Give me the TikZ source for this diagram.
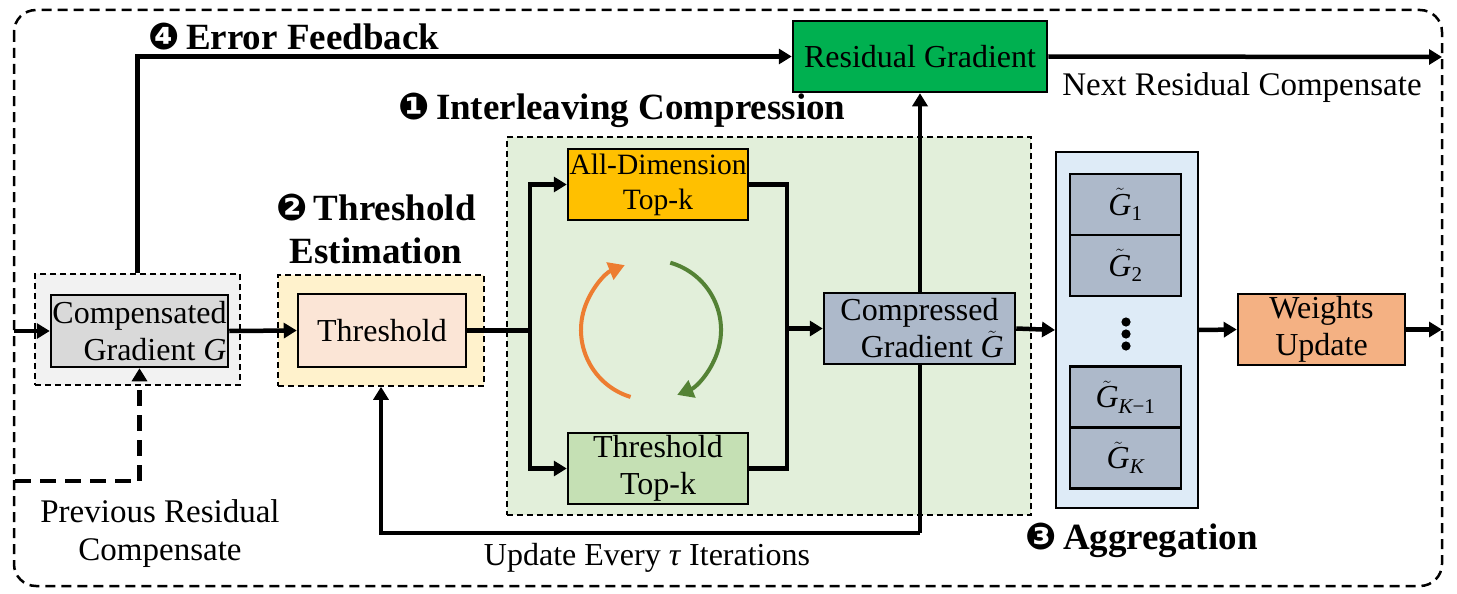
\documentclass[tikz,border=0pt]{standalone}
\usepackage{fontspec}
\setmainfont{Liberation Serif}
\newfontfamily\dingfont{DejaVu Sans}
\usetikzlibrary{arrows.meta}
\pgfdeclarelayer{bg}
\pgfdeclarelayer{fg}
\pgfsetlayers{bg,main,fg}
\definecolor{cgrayout}{HTML}{F2F2F2}
\definecolor{cgray}{HTML}{D9D9D9}
\definecolor{cyelout}{HTML}{FFF2CC}
\definecolor{cpeach}{HTML}{FBE5D6}
\definecolor{cgreenreg}{HTML}{E2EFDA}
\definecolor{corange}{HTML}{FFC000}
\definecolor{clgreen}{HTML}{C5E0B4}
\definecolor{cslate}{HTML}{ADB9CA}
\definecolor{clblue}{HTML}{DEEBF7}
\definecolor{csalmon}{HTML}{F4B183}
\definecolor{cresid}{HTML}{00B050}
\definecolor{carcor}{HTML}{ED7D31}
\definecolor{carcgr}{HTML}{548235}
\newcommand{\myGt}{$\tilde{\hbox{\itshape G}}$}
\newcommand{\myGs}[1]{$\tilde{\hbox{\itshape G}}_{\hbox{\fontsize{21}{21}\selectfont #1}}$}
\begin{document}
\begin{tikzpicture}[x=1pt,y=-1pt,
  txt/.style={font=\fontsize{32}{37}\selectfont},
  head/.style={font=\fontsize{37}{43}\selectfont\bfseries},
  box/.style={draw=black, line width=2.5pt, inner sep=0pt, txt, align=center},
  region/.style={draw=black, line width=1.6pt, dash pattern=on 6pt off 4pt, inner sep=0pt},
  lin/.style={line width=4.5pt},
  conn/.style={line width=4.5pt, -{Triangle[length=13pt,width=15pt]}},
  dconn/.style={line width=4.5pt, dash pattern=on 16pt off 9pt, -{Triangle[length=13pt,width=15pt]}},
  arc/.style={line width=4pt, -{Triangle[length=16pt,width=18pt]}}
]
\useasboundingbox (0,0) rectangle (1457,594);
\draw[line width=2.5pt, dash pattern=on 10pt off 6pt, rounded corners=22pt] (14,10) rectangle (1442,586);

\begin{pgfonlayer}{bg}
\node[region, fill=cgrayout, minimum width=205pt, minimum height=111pt] (compOuter) at (137.5,329.5) {};
\node[region, fill=cyelout, minimum width=206pt, minimum height=111pt] (thrOuter) at (381,330.5) {};
\node[region, fill=cgreenreg, minimum width=524pt, minimum height=378pt] (greg) at (769,326) {};
\end{pgfonlayer}

\begin{pgfonlayer}{fg}
\node[box, fill=cgray, minimum width=177pt, minimum height=72pt, align=right] (comp) at (139.5,331) {Compensated\\Gradient \textit{G}};
\node[box, fill=cpeach, minimum width=168pt, minimum height=73pt] (thr) at (382,330.5) {Threshold};
\node[box, fill=corange, minimum width=180pt, minimum height=71pt, font=\fontsize{29.5}{35}\selectfont] (alld) at (658,184.5) {All-Dimension\\Top-k};
\node[box, fill=clgreen, minimum width=180pt, minimum height=71pt] (thrk) at (658,468.5) {Threshold\\Top-k};
\node[box, fill=cslate, minimum width=191pt, minimum height=71pt] (compr) at (919.5,328.5) {Compressed\\\hspace*{0.8em}Gradient \myGt};
\node[box, fill=cresid, minimum width=254pt, minimum height=71pt] (rg) at (920,56.5) {Residual Gradient};
\node[box, fill=clblue, line width=2pt, minimum width=142pt, minimum height=356pt] (aggr) at (1127,330) {};
\node[box, fill=cslate, minimum width=111pt, minimum height=61pt] (g1) at (1125.5,204.5) {\myGs{1}};
\node[box, fill=cslate, minimum width=111pt, minimum height=61pt] (g2) at (1125.5,265.5) {\myGs{2}};
\node[box, fill=cslate, minimum width=111pt, minimum height=61pt] (gk1) at (1125.5,397) {\myGs{\itshape K\upshape −1}};
\node[box, fill=cslate, minimum width=111pt, minimum height=61pt] (gk) at (1125.5,458) {\myGs{\itshape K}};
\fill (1126,322) circle (4.6pt) (1126,334) circle (4.6pt) (1126,346) circle (4.6pt);
\node[box, fill=csalmon, minimum width=167pt, minimum height=71pt] (wu) at (1321.5,329.5) {\raisebox{-3pt}{Weights}\\\raisebox{-3pt}{Update}};
\end{pgfonlayer}

% coordinates
\coordinate (in) at (14,331);
\coordinate (pr) at (15,481);
\coordinate (sp) at (530,330.5);
\coordinate (mg) at (787,328.5);
\coordinate (lp) at (920,533);
\coordinate (ro) at (1442,57);
\coordinate (wo) at (1442,329.5);

% connectors
\draw[conn] (in) -- (comp.west);
\draw[dconn] (pr) -| (comp.south);
\draw[conn] (comp.east) -- (thr.west);
\draw[conn] (compOuter.north) |- (rg.west);
\draw[conn] (rg.east) -- (ro);
\draw[lin] (thr.east) -- (sp);
\draw[conn] (sp) |- (alld.west);
\draw[conn] (sp) |- (thrk.west);
\draw[lin] (alld.east) -| (mg);
\draw[lin] (thrk.east) -| (mg);
\draw[conn] (mg) -- (compr.west);
\draw[conn] (lp) -| (thrOuter.south);
\draw[conn] (lp) -- (rg.south);
\draw[conn] (compr.east) -- (aggr.west);
\draw[conn] (aggr.east) -- (wu.west);
\draw[conn] (wu.east) -- (wo);

% cycle arcs (angles in the y-down system: increasing = clockwise on screen)
\coordinate (cc) at (651,330);
\draw[arc, carcor] ([shift={(107:70)}]cc) arc[start angle=107, end angle=248, radius=70];
\draw[arc, carcgr] ([shift={(-74:70)}]cc) arc[start angle=-74, end angle=68, radius=70];

% labels
\node[head, anchor=west] (lef) at (145,37) {{\dingfont ❹}\,Error Feedback};
\node[head, anchor=west] (lic) at (395,110) {{\dingfont ❶}\,Interleaving Compression};
\node[head, align=center] (lte) at (376,229) {{\dingfont ❷}\,Threshold\\Estimation};
\node[head, anchor=west] (lag) at (1022,540) {{\dingfont ❸}\,Aggregation};
\node[txt, font=\fontsize{33}{37}\selectfont] (lnr) at (1242,88) {Next Residual Compensate};
\node[txt] (lup) at (647,558) {Update Every \textit{τ} Iterations};
\node[txt, align=center, font=\fontsize{33}{38}\selectfont] (lpr) at (160,534) {Previous Residual\\Compensate};
\end{tikzpicture}
\end{document}
